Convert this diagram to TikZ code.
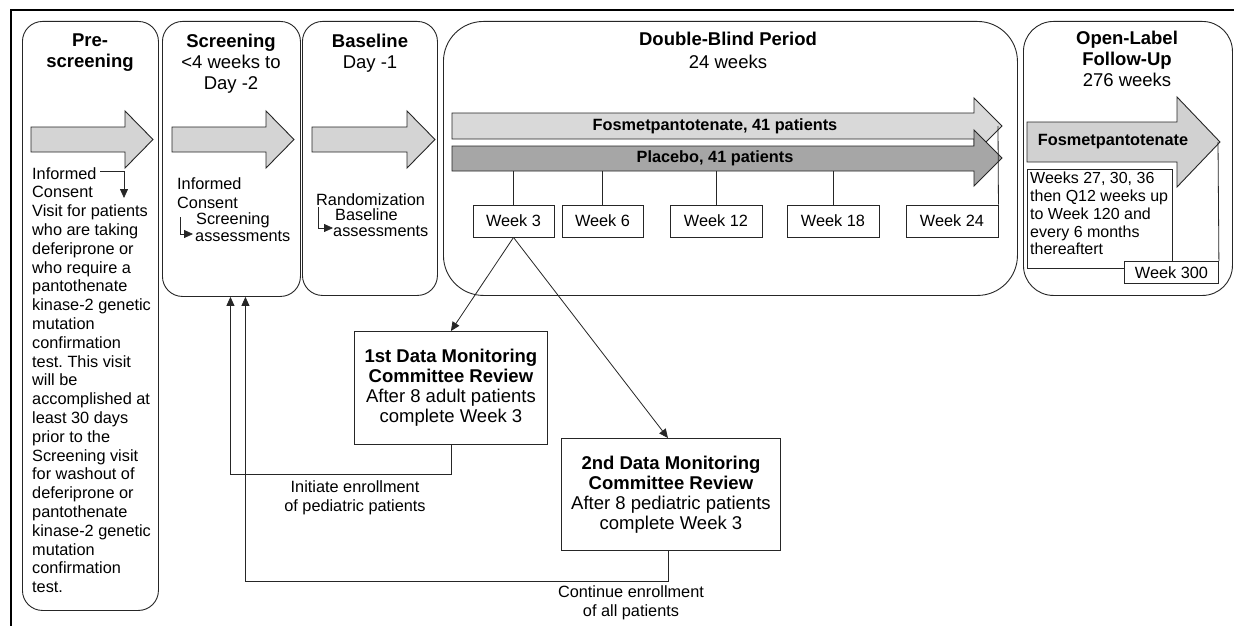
\documentclass[tikz,border=0pt]{standalone}
\usepackage{fontspec}
\setmainfont{Liberation Sans}
\usetikzlibrary{arrows.meta}
\newcommand\fsb{\fontsize{16.3pt}{18.8pt}\selectfont}
\newcommand\fst{\fontsize{18.5pt}{21pt}\selectfont}
\newcommand\fsd{\fontsize{18.5pt}{20pt}\selectfont}
\newcommand\fso{\fontsize{16pt}{17.8pt}\selectfont}
\frenchspacing
\begin{document}
\begin{tikzpicture}[x=1pt,y=-1pt,
  phase/.style={draw=black!85, line width=0.9pt, rectangle, inner sep=0pt, anchor=north west},
  fat/.style={draw=black!85, line width=0.9pt, fill=black!17},
  wk/.style={draw=black!85, line width=0.9pt, fill=white, minimum height=32pt, inner sep=0pt, font=\fsb},
  ln/.style={draw=black!85, line width=0.8pt},
  conn/.style={ln, -{Triangle[length=9pt,width=8pt]}},
  txt/.style={inner sep=0pt, font=\fsb, align=left},
  ttl/.style={inner sep=0pt, font=\fst, align=center},
  dmc/.style={draw=black!85, line width=0.9pt, inner sep=0pt, anchor=north west, font=\fsd, align=center}
]
\useasboundingbox (0,0) rectangle (1234,626);
\fill[white] (0,0) rectangle (1234,626);
% outer frame
\draw[line width=2.8pt] (1234,10) -- (11,10) -- (11,626);

% phase boxes
\node[phase, rounded corners=20pt, minimum width=136pt, minimum height=589pt] (pre) at (22,21) {};
\node[phase, rounded corners=20pt, minimum width=138pt, minimum height=275pt] (scr) at (162,21) {};
\node[phase, rounded corners=20pt, minimum width=135pt, minimum height=274pt] (bas) at (302,21) {};
\node[phase, rounded corners=40pt, minimum width=574pt, minimum height=274pt] (dbl) at (443,21) {};
\node[phase, rounded corners=30pt, minimum width=209pt, minimum height=274pt] (ola) at (1023,21) {};

% titles
\node[ttl, font=\fst\bfseries] (preT) at (90,53) {Pre-\\screening};
\node[ttl] (scrT) at (231,64) {{\bfseries Screening}\\<4 weeks to\\Day -2};
\node[ttl] (basT) at (370,53) {{\bfseries Baseline}\\Day -1};
\node[ttl, font=\fontsize{18.5pt}{23pt}\selectfont] (dblT) at (728,50) {{\bfseries Double-Blind Period}\\24 weeks};
\node[ttl] (olaT) at (1127,59) {{\bfseries Open-Label}\\{\bfseries Follow-Up}\\276 weeks};

% fat arrows
\filldraw[fat] (31,127) -- (125,127) -- (125,111) -- (153,139.5) -- (125,168) -- (125,152) -- (31,152) -- cycle;
\filldraw[fat] (172,127) -- (266,127) -- (266,111) -- (294,139.5) -- (266,168) -- (266,152) -- (172,152) -- cycle;
\filldraw[fat] (312,127) -- (407,127) -- (407,111) -- (435,139.5) -- (407,168) -- (407,152) -- (312,152) -- cycle;
\filldraw[fat, fill=black!15] (452,113) -- (974,113) -- (974,98) -- (1002,126) -- (974,154) -- (974,139) -- (452,139) -- cycle;
\filldraw[fat, fill=black!35] (452,146) -- (974,146) -- (974,130) -- (1002,158) -- (974,186) -- (974,171) -- (452,171) -- cycle;
\filldraw[fat, fill=black!18] (1027,122) -- (1177,122) -- (1177,97) -- (1220,142) -- (1177,187) -- (1177,162) -- (1027,162) -- cycle;
\coordinate (fosTip) at (998,126);
\coordinate (olTip) at (1218,142);
\coordinate (plBot) at (0,171);

\node[inner sep=0pt, font=\fsb\bfseries] (fosL) at (715,126) {Fosmetpantotenate, 41 patients};
\node[inner sep=0pt, font=\fsb\bfseries] (plaL) at (715,158.5) {Placebo, 41 patients};
\node[inner sep=0pt, font=\fsb\bfseries] (olaL) at (1113,142) {Fosmetpantotenate};

% pre-screening text
\node[txt, anchor=north west] (preX) at (32,167) {Informed\\Consent\\Visit for patients\\who are taking\\deferiprone or\\who require a\\pantothenate\\kinase-2 genetic\\mutation\\confirmation\\test. This visit\\will be\\accomplished at\\least 30 days\\prior to the\\Screening visit\\for washout of\\deferiprone or\\pantothenate\\kinase-2 genetic\\mutation\\confirmation\\test.};
\coordinate (pe1) at (100,171);
\coordinate (pe2) at (124,171);
\coordinate (pe3) at (124,198);
\draw[conn] (pe1) -- (pe2) -- (pe3);

% screening text
\node[txt, anchor=west] (scrX1) at (177,184) {Informed};
\node[txt, anchor=west] (scrX2) at (177,203) {Consent};
\node[txt, anchor=west] (scrX3) at (196,220) {Screening};
\node[txt, anchor=west] (scrX4) at (195,236) {assessments};
\coordinate (se1) at (180,217);
\coordinate (se2) at (180,234);
\coordinate (se3) at (193,234);
\draw[conn] (se1) -- (se2) -- (se3);

% baseline text
\node[txt, anchor=west] (basX1) at (316,200) {Randomization};
\node[txt, anchor=west] (basX2) at (335,215) {Baseline};
\node[txt, anchor=west] (basX3) at (333,231) {assessments};
\coordinate (be1) at (318,207);
\coordinate (be2) at (318,228);
\coordinate (be3) at (333,228);
\draw[conn] (be1) -- (be2) -- (be3);

% week boxes
\node[wk, minimum width=81pt] (w3) at (513.5,221) {Week 3};
\node[wk, minimum width=81pt] (w6) at (602.5,221) {Week 6};
\node[wk, minimum width=92pt] (w12) at (716,221) {Week 12};
\node[wk, minimum width=92pt] (w18) at (833,221) {Week 18};
\node[wk, minimum width=92pt] (w24) at (952,221) {Week 24};
\foreach \w in {w3,w6,w12,w18}{\draw[ln] (\w.north) -- (\w.north |- plBot);}
\draw[ln] (fosTip) -- (w24.north east);

% open-label boxes
\node[draw=black!85, line width=0.9pt, fill=white, anchor=north west, minimum width=145pt, minimum height=99pt, inner sep=0pt] (olBox) at (1027,169) {};
\node[inner sep=0pt, anchor=north west, font=\fso, align=left] (olTxt) at (1030,172) {Weeks 27, 30, 36\\then Q12 weeks up\\to Week 120 and\\every 6 months\\thereaftert};
\node[wk, minimum width=94pt, minimum height=22pt, anchor=north west] (w300) at (1124,261) {Week 300};
\draw[ln] (olTip) -- (w300.north east);

% DMC boxes
\node[dmc, minimum width=193pt, minimum height=113pt] (dmc1) at (354,331) {{\bfseries 1st Data Monitoring}\\{\bfseries Committee Review}\\After 8 adult patients\\complete Week 3};
\node[dmc, minimum width=219pt, minimum height=112pt] (dmc2) at (561,438) {{\bfseries 2nd Data Monitoring}\\{\bfseries Committee Review}\\After 8 pediatric patients\\complete Week 3};

\draw[conn] (w3.south) -- (dmc1.north);
\draw[conn] (w3.south) -- ([xshift=-3pt]dmc2.north);

\coordinate (h1) at (0,474);
\coordinate (h2) at (0,581);
\draw[conn] (dmc1.south) -- (dmc1.south |- h1) -| ([xshift=-1pt]scr.south);
\draw[conn] ([xshift=-3pt]dmc2.south) -- ([xshift=-3pt]dmc2.south |- h2) -| ([xshift=14pt]scr.south);

\node[inner sep=0pt, font=\fsb, align=center] (lab1) at (355,498) {Initiate enrollment\\of pediatric patients};
\node[inner sep=0pt, font=\fsb, align=center] (lab2) at (631,603) {Continue enrollment\\of all patients};
\end{tikzpicture}
\end{document}
